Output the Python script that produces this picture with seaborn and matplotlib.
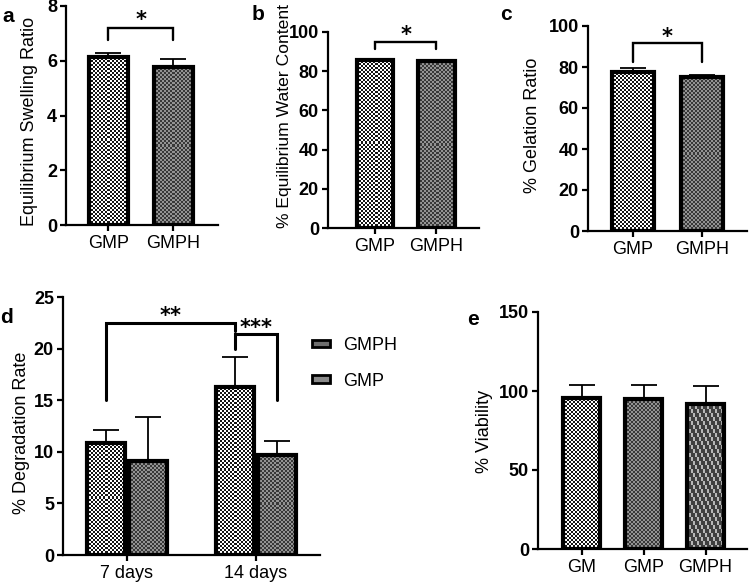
import numpy as np
import pandas as pd
import matplotlib
matplotlib.use("Agg")
import matplotlib.pyplot as plt
import matplotlib.transforms as mtransforms
from matplotlib.patches import Patch
import seaborn as sns

# ---------------- data ----------------
a_groups = ["GMP", "GMPH"]
a_mean = [6.15, 5.78]
a_sd = [0.13, 0.28]

b_groups = ["GMP", "GMPH"]
b_mean = [85.8, 85.1]
b_sd = [0.4, 0.6]

c_groups = ["GMP", "GMPH"]
c_mean = [77.6, 75.2]
c_sd = [1.9, 1.1]

d_days = ["7 days", "14 days"]
d_series = ["GMPH", "GMP"]
d_gmph = [10.9, 16.3]
d_gmph_sd = [1.25, 2.9]
d_gmp = [9.1, 9.7]
d_gmp_sd = [4.3, 1.3]

e_groups = ["GM", "GMP", "GMPH"]
e_mean = [95.6, 94.8, 91.8]
e_sd = [8.2, 9.2, 11.4]

# ---------------- style ----------------
sns.set_theme(style="ticks")
plt.rcParams["font.family"] = ["Liberation Sans", "DejaVu Sans"]
plt.rcParams["axes.linewidth"] = 1.6
plt.rcParams["xtick.major.width"] = 1.6
plt.rcParams["ytick.major.width"] = 1.6
plt.rcParams["xtick.major.size"] = 4.5
plt.rcParams["ytick.major.size"] = 4.5
plt.rcParams["axes.edgecolor"] = "black"
plt.rcParams["xtick.color"] = "black"
plt.rcParams["ytick.color"] = "black"
plt.rcParams["text.color"] = "black"
plt.rcParams["axes.labelcolor"] = "black"

FS = 13
W, H = 749, 587
fig = plt.figure(figsize=(W / 100, H / 100), dpi=100)


def px_axes(left, top, right, bottom):
    return fig.add_axes([left / W, 1 - bottom / H, (right - left) / W, (bottom - top) / H])


def pat_light(nr, nc):
    m = np.add.outer(np.arange(nr), np.arange(nc)) % 2
    c1 = np.array([1.0, 1.0, 1.0]); c2 = np.array([0.08, 0.08, 0.08])
    return np.where(m[..., None] == 1, c1, c2)


def pat_dark(nr, nc):
    m = np.add.outer(np.arange(nr), np.arange(nc)) % 2
    c1 = np.array([0.58, 0.58, 0.58]); c2 = np.array([0.22, 0.22, 0.22])
    return np.where(m[..., None] == 1, c1, c2)


def pat_stair(nr, nc):
    i = np.arange(nr)[:, None]; j = np.arange(nc)[None, :]
    m = ((j + i // 2) % 3 == 0)
    c1 = np.array([0.72, 0.72, 0.72]); c2 = np.array([0.25, 0.25, 0.25])
    return np.where(m[..., None], c1, c2)


def fill_pattern(ax, patch, func, cell=2.0):
    x0, y0 = patch.get_x(), patch.get_y()
    w, h = patch.get_width(), patch.get_height()
    (p0x, p0y), (p1x, p1y) = ax.transData.transform([(x0, y0), (x0 + w, y0 + h)])
    nc = max(1, int(round(abs(p1x - p0x) / cell)))
    nr = max(1, int(round(abs(p1y - p0y) / cell)))
    img = func(nr, nc)
    im = ax.imshow(img, extent=(x0, x0 + w, y0, y0 + h), origin="lower",
                   interpolation="nearest", aspect="auto", zorder=2)
    im.set_clip_path(patch)
    patch.set_facecolor("none")
    patch.set_zorder(3)


def style_axes(ax, yticks, xlim, ylim, ylabel, label_x, label_y, lfs=FS):
    sns.despine(ax=ax)
    ax.set_xlim(*xlim)
    ax.set_ylim(*ylim)
    ax.set_yticks(yticks, [str(t) for t in yticks], fontsize=FS, fontweight="bold")
    ax.tick_params(axis="x", labelsize=FS, pad=3)
    ax.tick_params(axis="y", pad=2)
    ax.set_xlabel("")
    ax.set_ylabel(ylabel, fontsize=lfs, va="center")
    ax.yaxis.set_label_coords(label_x, label_y)


def star(ax, x, y, s, fs=15):
    tr = mtransforms.offset_copy(ax.transData, fig=fig, y=-8.5, units="points")
    ax.text(x, y, s, transform=tr, ha="center", va="baseline", fontsize=fs,
            fontweight="bold", family="DejaVu Sans", clip_on=False)


def bracket(ax, x1, x2, top, l1, l2, lw=1.7):
    ax.plot([x1, x1, x2, x2], [l1, top, top, l2], color="black", lw=lw,
            clip_on=False, solid_joinstyle="miter", zorder=5)


def simple_bars(ax, groups, mean, sd, width=0.6):
    sns.barplot(x=groups, y=mean, ax=ax, width=width, color="white",
                edgecolor="black", linewidth=3.0, errorbar=None)
    bars = list(ax.patches)
    xs = np.arange(len(groups))
    ax.errorbar(xs, mean, yerr=[np.zeros(len(sd)), sd], fmt="none",
                ecolor="black", elinewidth=1.3, capsize=9.5, capthick=1.3, zorder=1)
    return bars


# ---------------- panel a ----------------
axa = px_axes(66, 6, 218, 225)
pa = simple_bars(axa, a_groups, a_mean, a_sd)
style_axes(axa, [0, 2, 4, 6, 8], (-0.65, 1.69), (0, 8),
           "Equilibrium Swelling Ratio", -0.237, 0.475)
fill_pattern(axa, pa[0], pat_light)
fill_pattern(axa, pa[1], pat_dark)
bracket(axa, 0, 1, 7.2, 6.75, 6.75)
star(axa, 0.5, 7.71, "*")

# ---------------- panel b ----------------
axb = px_axes(328, 32, 479, 228)
pb = simple_bars(axb, b_groups, b_mean, b_sd)
style_axes(axb, [0, 20, 40, 60, 80, 100], (-0.77, 1.70), (0, 100),
           "% Equilibrium Water Content", -0.29, 0.57, lfs=12.6)
fill_pattern(axb, pb[0], pat_light)
fill_pattern(axb, pb[1], pat_dark)
bracket(axb, 0, 1, 95, 91.3, 91.3)
star(axb, 0.5, 101.5, "*")

# ---------------- panel c ----------------
axc = px_axes(588, 26, 747, 231)
pc = simple_bars(axc, c_groups, c_mean, c_sd)
style_axes(axc, [0, 20, 40, 60, 80, 100], (-0.652, 1.652), (0, 100),
           "% Gelation Ratio", -0.346, 0.517)
fill_pattern(axc, pc[0], pat_light)
fill_pattern(axc, pc[1], pat_dark)
bracket(axc, 0, 1, 91.7, 82.4, 82.4)
star(axc, 0.5, 97.3, "*")

# ---------------- panel d ----------------
axd = px_axes(63, 297, 320, 555)
df_d = pd.DataFrame({
    "day": d_days * 2,
    "series": [d_series[0]] * 2 + [d_series[1]] * 2,
    "value": d_gmph + d_gmp,
})
sd_d = [d_gmph_sd, d_gmp_sd]
sns.barplot(data=df_d, x="day", y="value", hue="series", hue_order=d_series,
            order=d_days, ax=axd, width=0.66, gap=0.1, palette=["white", "white"],
            edgecolor="black", linewidth=3.0, errorbar=None, legend=False)
style_axes(axd, [0, 5, 10, 15, 20, 25], (-0.496, 1.496), (0, 25),
           "% Degradation Rate", -0.160, 0.473)
bar_conts = [c for c in axd.containers]
centers = []
for k, cont in enumerate(bar_conts):
    patches = [p for p in cont if p is not None]
    xs = [p.get_x() + p.get_width() / 2 for p in patches]
    centers.append(xs)
    ys = [p.get_height() for p in patches]
    axd.errorbar(xs, ys, yerr=[np.zeros(len(xs)), sd_d[k]], fmt="none",
                 ecolor="black", elinewidth=1.3, capsize=9.5, capthick=1.3, zorder=1)
    for p in patches:
        fill_pattern(axd, p, pat_light if k == 0 else pat_dark)
bracket(axd, centers[0][0], centers[0][1], 22.5, 15.0, 21.7, lw=2.2)
bracket(axd, centers[0][1], centers[1][1], 21.4, 20.0, 15.0, lw=2.2)
star(axd, (centers[0][0] + centers[0][1]) / 2, 23.7, "**")
star(axd, (centers[0][1] + centers[1][1]) / 2, 22.6, "***")
handles = [Patch(facecolor="#6e6e6e", edgecolor="black", linewidth=2.0),
           Patch(facecolor="#8a8a8a", edgecolor="black", linewidth=2.0)]
fig.legend(handles, d_series, loc="upper left", bbox_to_anchor=(312 / W, 1 - 337 / H),
           frameon=False, fontsize=FS, handlelength=1.0, handleheight=0.3,
           handletextpad=0.7, labelspacing=1.05, borderpad=0, borderaxespad=0)

# ---------------- panel e ----------------
axe = px_axes(538, 312, 747, 549)
pe = simple_bars(axe, e_groups, e_mean, e_sd)
style_axes(axe, [0, 50, 100, 150], (-0.71, 2.67), (0, 150),
           "% Viability", -0.254, 0.498)
fill_pattern(axe, pe[0], pat_light)
fill_pattern(axe, pe[1], pat_dark)
fill_pattern(axe, pe[2], pat_stair)

# ---------------- panel letters ----------------
for lab, x, y in [("a", 2, 22), ("b", 252, 20), ("c", 500, 20), ("d", 0, 323), ("e", 467, 325)]:
    fig.text(x / W, 1 - y / H, lab, fontsize=15, fontweight="bold", va="baseline", ha="left")

fig.savefig("out.png", dpi=100)
